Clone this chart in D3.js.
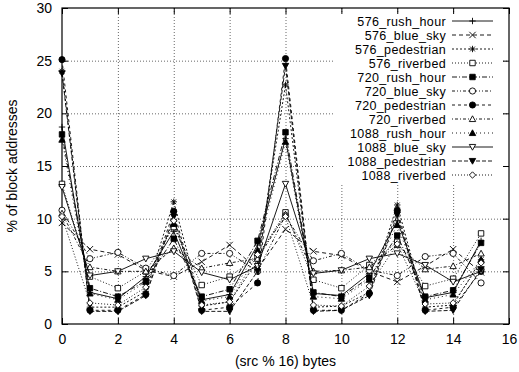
<!DOCTYPE html>
<html><head><meta charset="utf-8">
<script src="https://cdn.jsdelivr.net/npm/d3@7"></script>
<style>body{margin:0;background:#fff}svg{display:block}text{font-family:"Liberation Sans",Arial,sans-serif;fill:#000}</style>
</head><body>
<svg id="c" width="519" height="372"></svg>
<script>
const xValues = d3.range(0, 16);
const seriesNames = ["576_rush_hour","576_blue_sky","576_pedestrian","576_riverbed","720_rush_hour","720_blue_sky","720_pedestrian","720_riverbed","1088_rush_hour","1088_blue_sky","1088_pedestrian","1088_riverbed"];
const rush576  = [18.7, 3.0, 2.4, 4.5, 8.8, 2.3, 2.8, 7.5, 17.6, 2.9, 2.7, 4.8, 9.8, 2.5, 3.0, 7.9];
const blue576  = [9.6, 7.1, 6.6, 5.1, 4.5, 5.9, 7.5, 5.2, 9.0, 6.9, 6.5, 5.0, 4.0, 5.5, 7.1, 4.9];
const ped576   = [24.0, 1.6, 1.6, 3.1, 11.6, 1.7, 2.1, 6.0, 22.7, 1.6, 1.7, 3.0, 11.3, 1.6, 1.8, 6.1];
const riv576   = [13.3, 4.5, 3.4, 5.0, 9.2, 3.7, 4.5, 6.4, 10.6, 4.2, 3.4, 5.6, 7.8, 3.6, 4.3, 8.6];
const rush720  = [18.0, 3.4, 2.6, 4.1, 8.1, 2.6, 3.3, 7.9, 18.2, 3.0, 2.6, 4.4, 8.4, 2.6, 3.2, 7.7];
const blue720  = [10.8, 6.2, 6.8, 5.3, 4.6, 6.7, 6.7, 5.0, 10.3, 6.0, 6.7, 5.1, 4.6, 6.4, 6.7, 3.9];
const ped720   = [25.1, 1.3, 1.3, 2.8, 10.7, 1.3, 1.6, 3.9, 25.2, 1.3, 1.3, 2.9, 10.8, 1.3, 1.6, 5.0];
const riv720   = [10.5, 5.4, 5.0, 5.0, 7.2, 5.3, 5.8, 6.2, 10.4, 5.0, 5.1, 5.4, 7.5, 5.2, 5.5, 6.7];
const rush1088 = [17.5, 2.9, 2.3, 4.0, 9.5, 2.2, 2.6, 7.0, 17.3, 2.6, 2.4, 4.2, 9.4, 2.3, 2.8, 6.1];
const blue1088 = [13.0, 4.6, 5.0, 6.2, 6.9, 4.9, 4.2, 5.5, 13.3, 4.8, 5.1, 6.2, 6.7, 5.6, 4.0, 5.0];
const ped1088  = [23.8, 1.2, 1.2, 2.7, 10.2, 1.2, 1.2, 5.0, 24.5, 1.2, 1.3, 2.7, 10.4, 1.2, 1.3, 5.2];
const riv1088  = [10.2, 2.0, 1.8, 3.5, 9.8, 1.8, 2.1, 6.6, 10.2, 1.8, 1.7, 3.6, 7.6, 1.9, 2.0, 5.8];
const seriesValues = [rush576, blue576, ped576, riv576, rush720, blue720, ped720, riv720, rush1088, blue1088, ped1088, riv1088];
const xTicks = [0,2,4,6,8,10,12,14,16];
const yTicks = [0,5,10,15,20,25,30];
const xLabel = "(src % 16) bytes";
const yLabel = "% of block addresses";

const dashes = ["", "4,3", "2,2", "1,2", "5,2,1,2", "3,2,1,2,1,2", "3,3", "1,2,3,2", "1,3", "", "4,2", "1,2"];
const markers = ["plus","cross","star","sq","sqf","circ","circf","tri","trif","itri","itrif","diam"];

const svg = d3.select("#c");
const L = 62, R = 509, T = 8, B = 324;
const FS = 13.5;
const x = d3.scaleLinear().domain([0,16]).range([L,R]);
const y = d3.scaleLinear().domain([0,30]).range([B,T]);

// grid
const g = svg.append("g");
g.selectAll(".gx").data(xTicks.slice(1,-1)).join("line")
  .attr("x1",d=>x(d)+0.5).attr("x2",d=>x(d)+0.5).attr("y1",T).attr("y2",B)
  .attr("stroke","#000").attr("stroke-width",0.6).attr("stroke-dasharray","1,2");
g.selectAll(".gy").data(yTicks.slice(1,-1)).join("line")
  .attr("y1",d=>y(d)+0.5).attr("y2",d=>y(d)+0.5).attr("x1",L).attr("x2",R)
  .attr("stroke","#000").attr("stroke-width",0.6).attr("stroke-dasharray","1,2");
// key blank area
svg.append("rect").attr("x",333).attr("y",T+5).attr("width",170).attr("height",171).attr("fill","#fff");

// axes with inward ticks (mirrored)
const axB = d3.axisBottom(x).tickValues(xTicks).tickSize(-6).tickPadding(10).tickFormat(d3.format("d"));
const axT = d3.axisTop(x).tickValues(xTicks).tickSize(-6).tickFormat("");
const axLf = d3.axisLeft(y).tickValues(yTicks).tickSize(-6).tickPadding(10).tickFormat(d3.format("d"));
const axRt = d3.axisRight(y).tickValues(yTicks).tickSize(-6).tickFormat("");
function style(sel){ sel.select(".domain").remove(); sel.selectAll("line").attr("stroke","#000"); sel.selectAll("text").attr("font-size",14).attr("font-family","Liberation Sans, Arial, sans-serif").attr("fill","#000"); }
svg.append("g").attr("transform",`translate(0,${B})`).call(axB).call(style);
svg.append("g").attr("transform",`translate(0,${T})`).call(axT).call(style);
svg.append("g").attr("transform",`translate(${L},0)`).call(axLf).call(style);
svg.append("g").attr("transform",`translate(${R},0)`).call(axRt).call(style);
svg.append("rect").attr("x",L).attr("y",T).attr("width",R-L).attr("height",B-T).attr("fill","none").attr("stroke","#000").attr("stroke-width",1.2);

svg.append("text").attr("x",(L+R)/2).attr("y",366).attr("text-anchor","middle").attr("font-size",14).text(xLabel);
svg.append("text").attr("transform",`translate(17,${(T+B)/2}) rotate(-90)`).attr("text-anchor","middle").attr("font-size",14).text(yLabel);

function markerPath(m){
  const s=3.2;
  switch(m){
    case "plus": return `M${-s},0H${s}M0,${-s}V${s}`;
    case "cross": return `M${-s},${-s}L${s},${s}M${-s},${s}L${s},${-s}`;
    case "star": return `M${-s},0H${s}M0,${-s}V${s}M${-s*0.75},${-s*0.75}L${s*0.75},${s*0.75}M${-s*0.75},${s*0.75}L${s*0.75},${-s*0.75}`;
    case "sq": case "sqf": return `M${-s*0.85},${-s*0.85}h${s*1.7}v${s*1.7}h${-s*1.7}Z`;
    case "circ": case "circf": return d3.symbol(d3.symbolCircle, 30)();
    case "tri": case "trif": return `M0,${-s}L${s},${s*0.8}L${-s},${s*0.8}Z`;
    case "itri": case "itrif": return `M0,${s}L${s},${-s*0.8}L${-s},${-s*0.8}Z`;
    case "diam": return `M0,${-s}L${s},0L0,${s}L${-s},0Z`;
  }
}
const filled = m => /f$/.test(m);
const fillOf = m => filled(m) ? "#000" : (["plus","cross","star"].includes(m) ? "none" : "#fff");

const line = d3.line().x((d,i)=>x(xValues[i])).y(d=>y(d));
seriesValues.forEach((vals,k)=>{
  const gs = svg.append("g");
  gs.append("path").datum(vals).attr("d",line).attr("fill","none").attr("stroke","#000").attr("stroke-width",0.9)
    .attr("stroke-dasharray",dashes[k]||null);
  gs.selectAll("path.m").data(vals).join("path").attr("class","m")
    .attr("transform",(d,i)=>`translate(${x(xValues[i])},${y(d)})`)
    .attr("d",markerPath(markers[k]))
    .attr("fill",fillOf(markers[k]))
    .attr("stroke","#000").attr("stroke-width",0.9);
});

// legend
const lg = svg.append("g");
seriesNames.forEach((n,k)=>{
  const yy = 21 + k*14;
  lg.append("text").attr("x",446).attr("y",yy+4.5).attr("text-anchor","end").attr("font-size",12.5)
    .attr("letter-spacing","0.35px").text(n);
  lg.append("line").attr("x1",452).attr("x2",493).attr("y1",yy).attr("y2",yy).attr("stroke","#000").attr("stroke-width",0.9).attr("stroke-dasharray",dashes[k]||null);
  lg.append("path").attr("transform",`translate(472.5,${yy})`).attr("d",markerPath(markers[k]))
    .attr("fill",fillOf(markers[k]))
    .attr("stroke","#000").attr("stroke-width",0.9);
});
</script>
</body></html>
